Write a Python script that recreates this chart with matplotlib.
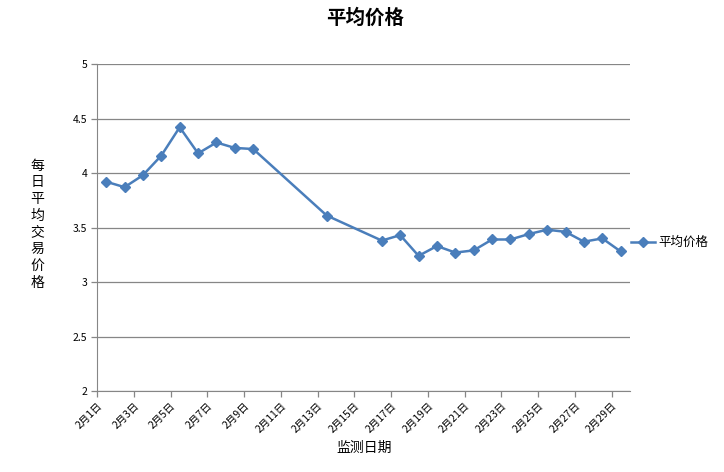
import matplotlib.pyplot as plt

plt.rcParams['font.family'] = ['Noto Sans CJK SC', 'DejaVu Sans']

# days of February with a recorded price
days = [1, 2, 3, 4, 5, 6, 7, 8, 9, 13, 16, 17, 18, 19, 20, 21, 22, 23, 24, 25, 26, 27, 28, 29]
prices = [3.92, 3.87, 3.98, 4.16, 4.42, 4.18, 4.28, 4.23, 4.22, 3.61,
          3.38, 3.43, 3.24, 3.33, 3.27, 3.29, 3.39, 3.39, 3.44, 3.48,
          3.46, 3.37, 3.40, 3.28]
tick_days = list(range(1, 30, 2))
tick_labels = ['2月%d日' % d for d in tick_days]
y_ticks = [2, 2.5, 3, 3.5, 4, 4.5, 5]

line_color = '#4A7EBB'
grid_color = '#868686'

fig = plt.figure(figsize=(7.24, 4.72), dpi=100)
ax = fig.add_axes([0.134, 0.1716, 0.736, 0.6928])

ax.plot(days, prices, '-', color=line_color, lw=1.8, marker='D', ms=4.6,
        label='平均价格')

ax.set_xlim(0.5, 29.5)
ax.set_ylim(2, 5)
ax.set_yticks(y_ticks)
ax.set_yticklabels(['2', '2.5', '3', '3.5', '4', '4.5', '5'], fontsize=7.5)
ax.set_xticks([d - 0.5 for d in tick_days])
ax.set_xticklabels(tick_labels, rotation=45, ha='right', rotation_mode='anchor',
                   fontsize=7.5)
ax.yaxis.grid(True, color=grid_color, lw=0.9)
ax.set_axisbelow(True)
for s in ['top', 'right']:
    ax.spines[s].set_visible(False)
for s in ['left', 'bottom']:
    ax.spines[s].set_color(grid_color)
ax.tick_params(axis='both', color=grid_color, length=4, width=0.9, pad=3)

fig.text(0.504, 0.962, '平均价格', ha='center', va='center', fontsize=14,
         fontweight='bold')
fig.text(0.503, 0.052, '监测日期', ha='center', va='center', fontsize=10)
fig.text(0.052, 0.525, '\n'.join('每日平均交易价格'), ha='center', va='center',
         fontsize=10, linespacing=1.25)

ax.legend(loc='center left', bbox_to_anchor=(0.99, 0.454), frameon=False,
          fontsize=9, handlelength=1.9, handletextpad=0.3, borderpad=0)

fig.savefig('out.png', dpi=100)
